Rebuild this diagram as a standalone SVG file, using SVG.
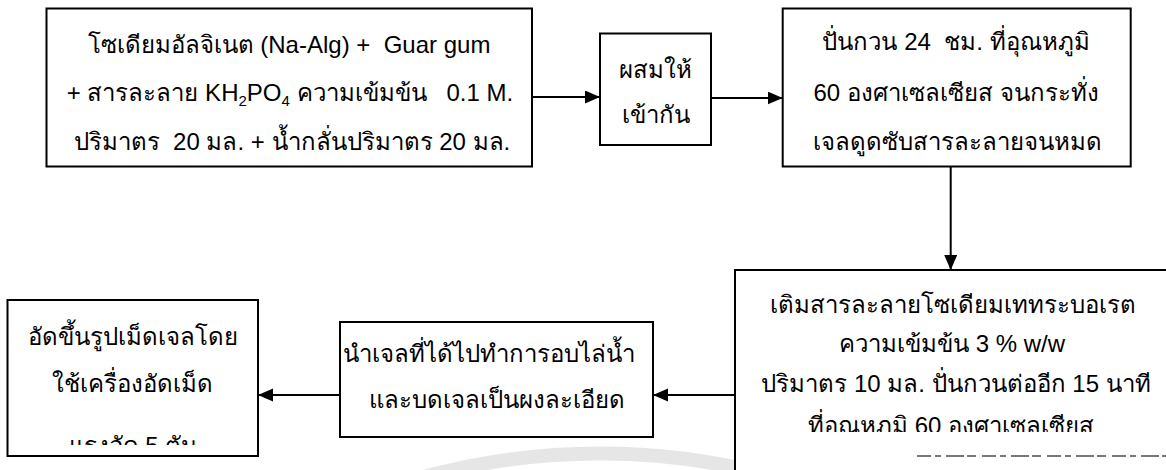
<svg xmlns="http://www.w3.org/2000/svg" width="1166" height="470" viewBox="0 0 1166 470">
<style>
.box{fill:#fff;stroke:#000;stroke-width:2}
.t{font-family:"Liberation Sans","Noto Sans",sans-serif;font-size:24px;fill:#000;text-anchor:middle}
.c{fill:none;stroke:#000;stroke-width:2;marker-end:url(#ah)}
</style>
<defs>
<marker id="ah" markerUnits="userSpaceOnUse" markerWidth="16" markerHeight="14" refX="15" refY="6.5" orient="auto">
<path d="M0,0 L15,6.5 L0,13 z" fill="#000"/>
</marker>
<clipPath id="clip6"><rect x="0" y="300" width="260" height="145"/></clipPath>
<clipPath id="clip4"><rect x="735" y="270" width="431" height="162"/></clipPath>
</defs>
<rect width="1166" height="470" fill="#fff"/>
<path d="M420,478 A674,674 0 0 1 780,478" fill="none" stroke="#e6e6e6" stroke-width="14"/>

<g id="box1">
<rect class="box" x="46.5" y="8.5" width="485.5" height="158"/>
<text class="t" x="289" y="53" xml:space="preserve">โซเดียมอัลจิเนต (Na-Alg) +  Guar gum</text>
<text class="t" x="290" y="101" xml:space="preserve">+ สารละลาย KH<tspan font-size="15" dy="5">2</tspan><tspan dy="-5">PO</tspan><tspan font-size="15" dy="5">4</tspan><tspan dy="-5"> ความเข้มข้น   0.1 M.</tspan></text>
<text class="t" x="292" y="150" xml:space="preserve">ปริมาตร  20 มล. + น้ำกลั่นปริมาตร 20 มล.</text>
</g>

<g id="box2">
<rect class="box" x="600" y="33.5" width="111" height="111.5"/>
<text class="t" x="655.5" y="78">ผสมให้</text>
<text class="t" x="655.5" y="123">เข้ากัน</text>
</g>

<g id="box3">
<rect class="box" x="782.7" y="8.5" width="348" height="158"/>
<text class="t" x="956" y="50" xml:space="preserve">ปั่นกวน 24  ชม. ที่อุณหภูมิ</text>
<text class="t" x="956" y="101">60 องศาเซลเซียส จนกระทั่ง</text>
<text class="t" x="957" y="150">เจลดูดซับสารละลายจนหมด</text>
</g>

<g id="box4">
<rect class="box" x="735" y="270" width="440" height="220"/>
<text class="t" x="953" y="313">เติมสารละลายโซเดียมเททระบอเรต</text>
<text class="t" x="952" y="352">ความเข้มข้น 3 % w/w</text>
<text class="t" x="956" y="392">ปริมาตร 10 มล. ปั่นกวนต่ออีก 15 นาที</text>
<text class="t" x="951" y="434" clip-path="url(#clip4)">ที่อุณหภูมิ 60 องศาเซลเซียส</text>
<path d="M917,456 H1166" stroke="#777" stroke-width="2" stroke-dasharray="14,4,6,5,18,3,9,6"/>
</g>

<g id="box5">
<rect class="box" x="340" y="322" width="313" height="115"/>
<text class="t" x="489" y="362">นำเจลที่ได้ไปทำการอบไล่น้ำ</text>
<text class="t" x="497" y="408">และบดเจลเป็นผงละเอียด</text>
</g>

<g id="box6">
<rect class="box" x="7.5" y="300" width="250.5" height="156"/>
<text class="t" x="132.5" y="345">อัดขึ้นรูปเม็ดเจลโดย</text>
<text class="t" x="132.5" y="392">ใช้เครื่องอัดเม็ด</text>
<text class="t" x="133" y="454" clip-path="url(#clip6)">แรงอัด 5 ตัน</text>
</g>

<g id="connectors">
<path class="c" d="M532,97 H600"/>
<path class="c" d="M711,98 H782.7"/>
<path class="c" d="M950.7,167 V270"/>
<path class="c" d="M735,395 H653"/>
<path class="c" d="M340,395 H258"/>
</g>
</svg>
